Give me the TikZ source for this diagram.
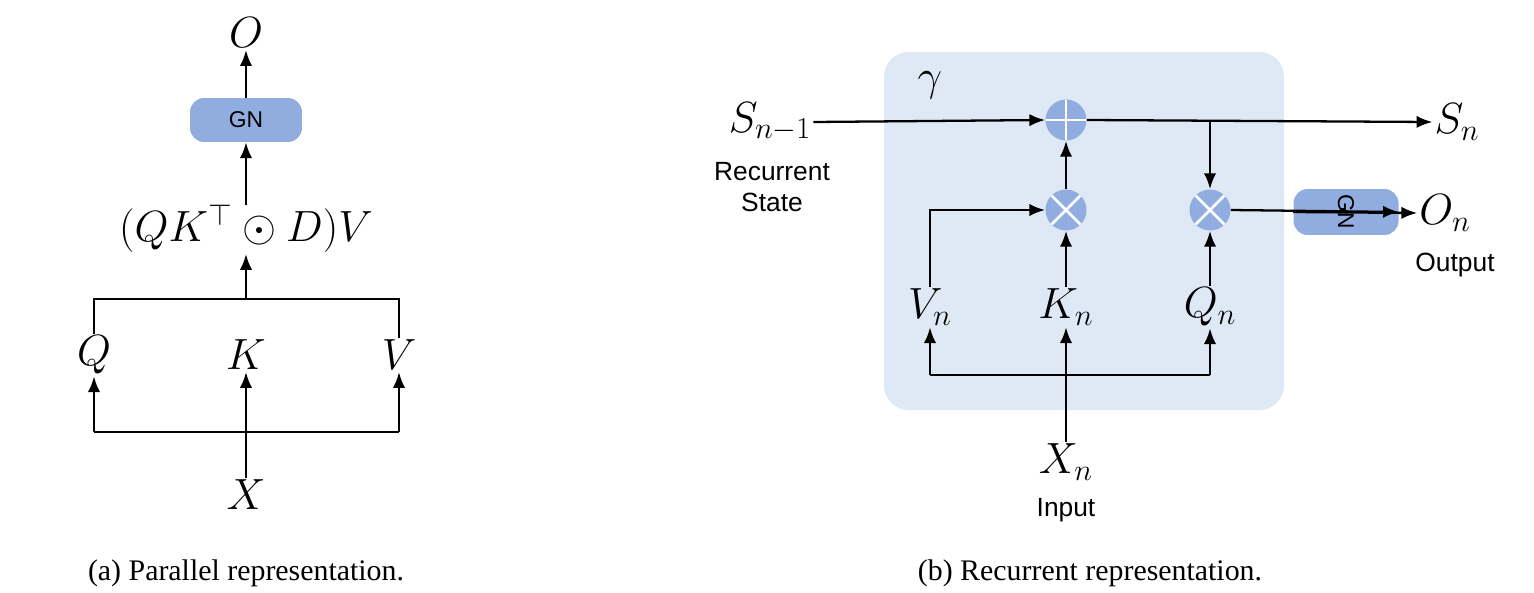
\documentclass[tikz,border=0pt]{standalone}
\usepackage{fontspec}
\setmainfont{Liberation Serif}
\setsansfont{Liberation Sans}
\usetikzlibrary{arrows.meta}
\definecolor{opblue}{RGB}{145,172,222}
\definecolor{panel}{RGB}{222,233,245}
\begin{document}
\begin{tikzpicture}[x=0.02cm,y=-0.02cm,
  ar/.style={-{Latex[length=9pt,width=7pt]},line width=1.3pt},
  ln/.style={line width=1.3pt},
  mt/.style={font=\fontsize{23}{27}\selectfont,inner sep=1pt},
  lab/.style={font=\sffamily\fontsize{15}{18}\selectfont,align=center,inner sep=1pt},
  captext/.style={font=\fontsize{17}{20}\selectfont},
  gnbox/.style={fill=opblue,rounded corners=8pt,font=\sffamily\fontsize{13}{15}\selectfont},
  plusop/.style={circle,fill=opblue,minimum size=0.82cm,inner sep=0pt,
    path picture={\draw[white,line width=1.5pt](path picture bounding box.north)--(path picture bounding box.south)
      (path picture bounding box.west)--(path picture bounding box.east);}},
  timesop/.style={circle,fill=opblue,minimum size=0.82cm,inner sep=0pt,
    path picture={\draw[white,line width=1.5pt](path picture bounding box.north west)--(path picture bounding box.south east)
      (path picture bounding box.south west)--(path picture bounding box.north east);}}]
\useasboundingbox (0,0) rectangle (1534,592);
% ---- (a)
\node[mt] (O) at (246,33) {$O$};
\node[gnbox,minimum width=2.24cm,minimum height=0.88cm] (gn) at (246,120) {GN};
\node[mt] (f) at (246,228) {$(QK^{\top}\odot D)V$};
\node[mt] (Q) at (94,355) {$Q$};
\node[mt] (K) at (246,355) {$K$};
\node[mt] (V) at (399,355) {$V$};
\node[mt] (X) at (246,495) {$X$};
\coordinate (top) at (246,299);
\coordinate (bot) at (246,432);
\draw[ar] (gn.north) -- (O.south);
\draw[ar] (f.north |- 0,205) -- (gn.south);
\draw[ar] (top) -- (f.south);
\draw[ln] (Q.north) -- (Q.north |- top) -- (V.north |- top) -- (V.north);
\draw[ar] (X.north) -- (K.south);
\draw[ln] (Q.south |- bot) -- (V.south |- bot);
\draw[ar] (Q.south |- bot) -- (Q.south);
\draw[ar] (V.south |- bot) -- (V.south);
\node[captext] at (246,573) {(a) Parallel representation.};
% ---- (b)
\fill[panel,rounded corners=14pt] (884,52) rectangle (1284,410);
\node[mt] at (930,85) {$\gamma$};
\node[mt] (S1) at (770,122) {$S_{n-1}$};
\node[lab] (rs) at (772,187) {Recurrent\\State};
\node[plusop] (p) at (1066,120) {};
\node[timesop] (t1) at (1066,210) {};
\node[timesop] (t2) at (1210,210) {};
\node[mt] (Sn) at (1457,122) {$S_n$};
\node[gnbox,minimum width=0.88cm,minimum height=2.1cm,rotate=-90] (g2) at (1346,212) {GN};
\node[mt] (On) at (1445,213) {$O_n$};
\node[lab] at (1455,265) {Output};
\node[mt] (Vn) at (930,307) {$V_n$};
\node[mt] (Kn) at (1066,307) {$K_n$};
\node[mt] (Qn) at (1210,307) {$Q_n$};
\node[mt] (Xn) at (1066,462) {$X_n$};
\node[lab] at (1066,510) {Input};
\coordinate (j) at (1210,120);
\coordinate (b2) at (1066,375);
\draw[ar] (S1.east) -- (p.west);
\draw[ar] (p.east) -- (Sn.west);
\draw[ar] (j) -- (t2.north);
\draw[ar] (t1.north) -- (p.south);
\draw[ar] (Vn.north) -- (Vn.north |- t1) -- (t1.west);
\draw[ar] (Kn.north) -- (t1.south);
\draw[ar] (Qn.north) -- (t2.south);
\draw[ar] (t2.east) -- (g2.north);
\draw[ar] (g2.south) -- (On.west);
\draw[ar] (Xn.north) -- (Kn.south);
\draw[ln] (Vn.south |- b2) -- (Qn.south |- b2);
\draw[ar] (Vn.south |- b2) -- (Vn.south);
\draw[ar] (Qn.south |- b2) -- (Qn.south);
\node[captext] at (1090,573) {(b) Recurrent representation.};
\end{tikzpicture}
\end{document}
